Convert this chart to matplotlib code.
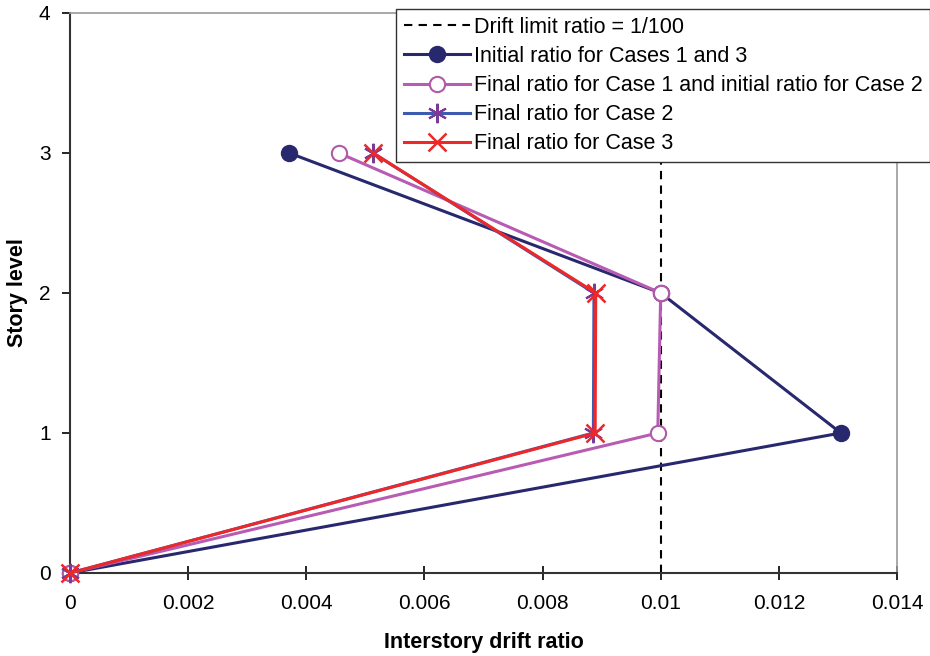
import matplotlib
matplotlib.use("Agg")
import matplotlib.pyplot as plt

levels = [0, 1, 2, 3]
initial = [0.0, 0.01305, 0.0100, 0.00371]
final_case1 = [0.0, 0.00995, 0.0100, 0.00455]
final_case2 = [0.0, 0.00886, 0.00887, 0.00513]
final_case3 = [0.0, 0.00889, 0.00890, 0.00513]
drift_limit = 0.01
xticks = [0, 0.002, 0.004, 0.006, 0.008, 0.01, 0.012, 0.014]
xticklabels = ["0", "0.002", "0.004", "0.006", "0.008", "0.01", "0.012", "0.014"]
yticks = [0, 1, 2, 3, 4]

plt.rcParams['font.family'] = ['Liberation Sans', 'DejaVu Sans']
fig = plt.figure(figsize=(9.3, 6.56), dpi=100)
ax = fig.add_axes([70/930, 83/656, 827/930, 560/656])

ax.plot([drift_limit, drift_limit], [0, 4], ls=(0, (4, 3)), color='black', lw=1.5,
        label='Drift limit ratio = 1/100', zorder=2)
ax.plot(initial, levels, '-o', color='#28286E', lw=2.2, ms=11.5,
        label='Initial ratio for Cases 1 and 3', zorder=3, clip_on=False)
ax.plot(final_case1, levels, '-o', color='#B85BB3', lw=2.2, ms=11, mfc='white',
        mec='#B05AA8', mew=1.5, label='Final ratio for Case 1 and initial ratio for Case 2',
        zorder=4, clip_on=False)
ax.plot(final_case2, levels, '-', color='#3D5CB0', lw=2.2, marker=(6, 2, 0), ms=14,
        mec='#7A3A98', mew=1.5, label='Final ratio for Case 2', zorder=5, clip_on=False)
ax.plot(final_case3, levels, '-x', color='#EE2828', lw=2.2, ms=13, mew=1.8,
        label='Final ratio for Case 3', zorder=6, clip_on=False)

ax.set_xlim(0, 0.014)
ax.set_ylim(0, 4)
ax.set_xticks(xticks)
ax.set_xticklabels(xticklabels)
ax.set_yticks(yticks)
ax.tick_params(axis='x', direction='inout', length=10, width=1.2, labelsize=15, pad=10)
ax.tick_params(axis='y', direction='out', length=6, width=1.2, labelsize=15, pad=8)
for s in ['top', 'right']:
    ax.spines[s].set_color('#9a9a9a')
    ax.spines[s].set_linewidth(1.2)
for s in ['left', 'bottom']:
    ax.spines[s].set_color('#333333')
    ax.spines[s].set_linewidth(1.5)

ax.set_xlabel('Interstory drift ratio', fontsize=15.5, fontweight='bold', labelpad=14)
ax.set_ylabel('Story level', fontsize=15.5, fontweight='bold', labelpad=8)

leg = ax.legend(loc='upper right', bbox_to_anchor=(1.0, 1.0 - 9/656), bbox_transform=fig.transFigure,
                fontsize=15.5, frameon=True, fancybox=False, edgecolor='#333333',
                handlelength=3.1, handletextpad=0.15, borderpad=0.36, labelspacing=0.38,
                borderaxespad=0.0, framealpha=1.0)
leg.get_frame().set_linewidth(1.0)
leg.set_zorder(10)

fig.savefig('out.png', dpi=100)
